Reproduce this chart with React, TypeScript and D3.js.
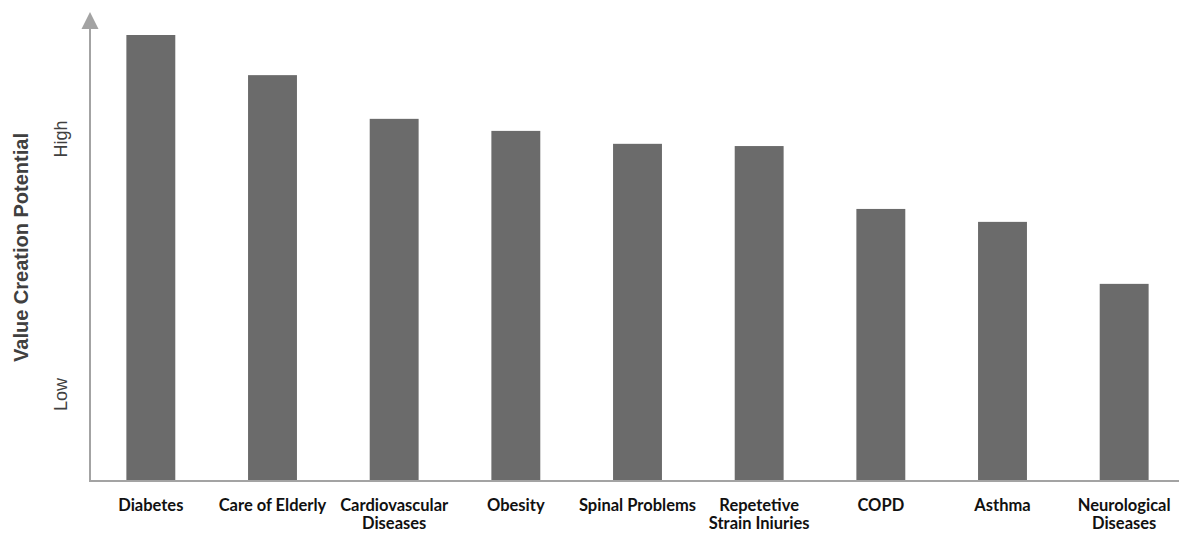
import React from "react";
import * as d3 from "d3";

// Disease areas ranked by value creation potential (relative scale 0–100)
const categories: string[][] = [
  ["Diabetes"],
  ["Care of Elderly"],
  ["Cardiovascular", "Diseases"],
  ["Obesity"],
  ["Spinal Problems"],
  ["Repetetive", "Strain Iniuries"],
  ["COPD"],
  ["Asthma"],
  ["Neurological", "Diseases"],
];
const values: number[] = [100, 91, 81.2, 78.5, 75.6, 75.1, 61, 58.1, 44.2];
const axisLabels = { title: "Value Creation Potential", high: "High", low: "Low" };

const W = 1179;
const H = 533;
const baseY = 481;
const topY = 35;
const axisX = 90;

export default function App() {
  const keys = categories.map((c) => c.join(" "));
  const x = d3
    .scaleBand<string>()
    .domain(keys)
    .range([90, 1185])
    .paddingInner(0.598)
    .paddingOuter(0.299);
  const y = d3.scaleLinear().domain([0, 100]).range([baseY, topY]);

  const barColor = "#6b6b6b";
  const axisColor = "#a3a3a3";
  const textFont = "'Liberation Sans', Arial, sans-serif";
  const labelFont = "Lato, 'Open Sans', sans-serif";

  return (
    <svg
      width={W}
      height={H}
      style={{ position: "absolute", left: 0, top: 0, background: "#fff", overflow: "hidden" }}
    >
      {values.map((v, i) => (
        <rect
          key={keys[i]}
          x={x(keys[i])!}
          y={y(v)}
          width={x.bandwidth()}
          height={baseY - y(v)}
          fill={barColor}
        />
      ))}

      {/* axes */}
      <line x1={axisX} y1={27} x2={axisX} y2={baseY} stroke={axisColor} strokeWidth={2} />
      <line x1={axisX - 1} y1={baseY} x2={W} y2={baseY} stroke={axisColor} strokeWidth={2} />
      <path
        d={`M${axisX},12 L${axisX + 8.5},29 L${axisX - 8.5},29 Z`}
        fill={axisColor}
      />

      {/* y axis annotations */}
      <text
        transform={`translate(28,247.5) rotate(-90)`}
        textAnchor="middle"
        fontFamily={textFont}
        fontWeight="bold"
        fontSize={20}
        fill="#404040"
      >
        {axisLabels.title}
      </text>
      <text
        transform={`translate(67,139) rotate(-90)`}
        textAnchor="middle"
        fontFamily={textFont}
        fontSize={18}
        fill="#404040"
      >
        {axisLabels.high}
      </text>
      <text
        transform={`translate(67,394.5) rotate(-90)`}
        textAnchor="middle"
        fontFamily={textFont}
        fontSize={18}
        fill="#404040"
      >
        {axisLabels.low}
      </text>

      {/* category labels */}
      {categories.map((lines, i) => (
        <text
          key={keys[i]}
          textAnchor="middle"
          fontFamily={labelFont}
          fontWeight="bold"
          fontSize={16.5}
          fill="#111"
        >
          {lines.map((ln, j) => (
            <tspan key={j} x={x(keys[i])! + x.bandwidth() / 2} y={510.5 + j * 18.5}>
              {ln}
            </tspan>
          ))}
        </text>
      ))}
    </svg>
  );
}
